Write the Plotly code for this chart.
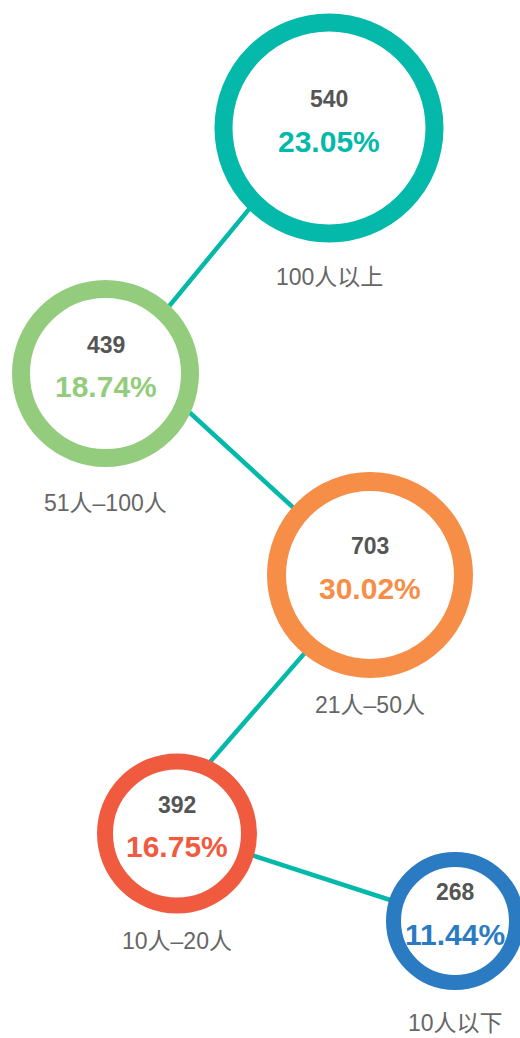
import plotly.graph_objects as go

# ---- data -------------------------------------------------------------
categories = ["100人以上", "51人–100人", "21人–50人", "10人–20人", "10人以下"]
counts = [540, 439, 703, 392, 268]
shares = [23.05, 18.74, 30.02, 16.75, 11.44]

# ---- layout of the node diagram (pixel space, y grows downwards) -------
node_x = [329, 105.5, 370, 177, 455]
node_y = [128, 373.5, 575, 833.5, 921]
outer_r = [114.5, 93.5, 103, 80, 69]
ring_w = [18, 18, 19, 16, 15]
label_dy = [149, 129, 130, 107, 102]
# where the connector bends inside each node
link_x = [316, 128, 370, 156, 455]
link_y = [128, 356, 578, 824, 921]

colors = ["#04b8aa", "#94cc7e", "#f68e47", "#f05b40", "#2a7bc1"]
link_color = "#04b8aa"
value_color = "#555555"
label_color = "#666666"
font_family = "Liberation Sans, Arial, Noto Sans CJK SC, sans-serif"

W, H = 520, 1038

fig = go.Figure()

# connector running through all nodes
fig.add_trace(go.Scatter(
    x=link_x, y=link_y, mode="lines",
    line=dict(color=link_color, width=4.5),
    hoverinfo="skip", showlegend=False,
))

# ring nodes
fig.add_trace(go.Scatter(
    x=node_x, y=node_y, mode="markers",
    marker=dict(
        symbol="circle",
        size=[2 * r - w for r, w in zip(outer_r, ring_w)],
        color="white",
        line=dict(color=colors, width=ring_w),
        opacity=1,
    ),
    text=categories,
    customdata=list(zip(counts, shares)),
    hovertemplate="%{text}<br>%{customdata[0]} (%{customdata[1]}%)<extra></extra>",
    showlegend=False,
))

annotations = []
for cat, n, p, x, y, dy, c in zip(categories, counts, shares, node_x, node_y, label_dy, colors):
    annotations.append(dict(
        x=x, y=y, yshift=29, text=f"<b>{n}</b>", showarrow=False,
        font=dict(family=font_family, size=23, color=value_color),
        xanchor="center", yanchor="middle",
    ))
    annotations.append(dict(
        x=x, y=y, yshift=-13, text=f"<b>{p:.2f}%</b>", showarrow=False,
        font=dict(family=font_family, size=30, color=c),
        xanchor="center", yanchor="middle",
    ))
    annotations.append(dict(
        x=x, y=y + dy, text=cat, showarrow=False,
        font=dict(family=font_family, size=23, color=label_color),
        xanchor="center", yanchor="middle",
    ))

fig.update_layout(
    width=W, height=H,
    margin=dict(l=0, r=0, t=0, b=0),
    paper_bgcolor="white", plot_bgcolor="white",
    xaxis=dict(range=[0, W], visible=False, fixedrange=True),
    yaxis=dict(range=[H, 0], visible=False, fixedrange=True),
    annotations=annotations,
    showlegend=False,
)

fig.write_html("out.html", config={"displayModeBar": False})
